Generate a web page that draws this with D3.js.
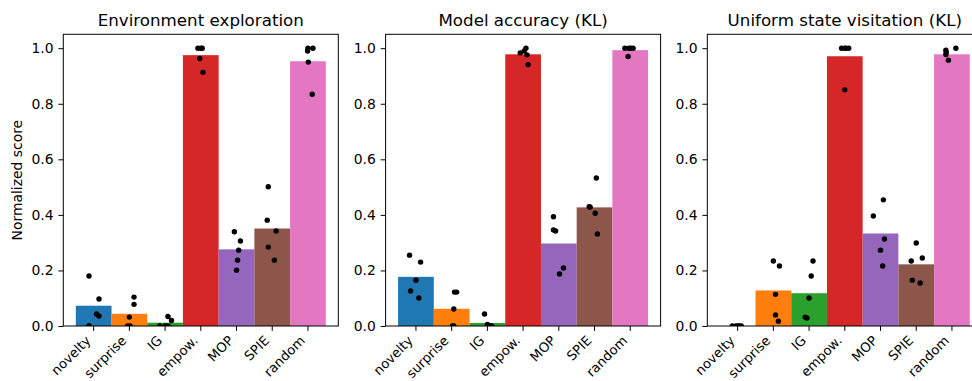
<!DOCTYPE html>
<html>
<head>
<meta charset="utf-8">
<script src="https://cdn.jsdelivr.net/npm/d3@7"></script>
<style>
  html, body { margin: 0; padding: 0; background: #fff; }
  svg { display: block; font-family: "DejaVu Sans", sans-serif; }
</style>
</head>
<body>
<svg id="chart" width="972" height="381"></svg>
<script>
// Methods compared in every panel
const categories = ["novelty", "surprise", "IG", "empow.", "MOP", "SPIE", "random"];
const barColors = ["#1f77b4", "#ff7f0e", "#2ca02c", "#d62728", "#9467bd", "#8c564b", "#e377c2"];
const panelTitles = ["Environment exploration", "Model accuracy (KL)", "Uniform state visitation (KL)"];
const yTicks = [0, 0.2, 0.4, 0.6, 0.8, 1.0];
const yLabel = "Normalized score";

// Mean normalized score per method
const explorationMeans = [0.073, 0.044, 0.012, 0.975, 0.276, 0.351, 0.953];
const accuracyMeans    = [0.177, 0.062, 0.011, 0.978, 0.297, 0.427, 0.993];
const visitationMeans  = [0.000, 0.128, 0.118, 0.971, 0.333, 0.222, 0.978];

// Individual runs (one row per method)
const explorationRuns = [
  [0.180, 0.097, 0.043, 0.036, 0.001],
  [0.104, 0.078, 0.032, 0.000, 0.000],
  [0.034, 0.020, 0.000, 0.000, 0.000],
  [1.000, 1.000, 1.000, 0.963, 0.913],
  [0.339, 0.306, 0.273, 0.237, 0.201],
  [0.501, 0.381, 0.342, 0.284, 0.237],
  [1.000, 1.000, 0.990, 0.950, 0.834]
];
const accuracyRuns = [
  [0.255, 0.230, 0.165, 0.126, 0.101],
  [0.122, 0.122, 0.061, 0.000, 0.000],
  [0.043, 0.006, 0.000, 0.000, 0.000],
  [1.000, 0.990, 0.983, 0.976, 0.941],
  [0.393, 0.346, 0.342, 0.209, 0.187],
  [0.533, 0.429, 0.428, 0.406, 0.331],
  [1.000, 1.000, 1.000, 1.000, 0.970]
];
const visitationRuns = [
  [0.000, 0.000, 0.000, 0.000, 0.000],
  [0.234, 0.216, 0.114, 0.040, 0.017],
  [0.234, 0.180, 0.101, 0.032, 0.029],
  [1.000, 1.000, 1.000, 1.000, 0.850],
  [0.454, 0.396, 0.313, 0.273, 0.216],
  [0.299, 0.245, 0.234, 0.165, 0.155],
  [1.000, 0.993, 0.985, 0.977, 0.957]
];

// Horizontal strip-plot jitter of each run, in category units
const explorationJitter = [
  [-0.13, 0.15, 0.08, 0.15, -0.13],
  [0.13, 0.13, 0.00, -0.05, 0.02],
  [0.08, 0.18, -0.15, 0.00, 0.08],
  [-0.08, 0.00, 0.04, -0.03, 0.06],
  [-0.06, 0.11, 0.06, 0.03, 0.00],
  [-0.11, -0.14, 0.11, -0.11, 0.06],
  [0.00, 0.14, -0.01, 0.01, 0.12]
];
const accuracyJitter = [
  [-0.18, 0.13, 0.00, -0.15, 0.08],
  [0.08, 0.14, 0.06, 0.06, 0.02],
  [-0.08, 0.00, 0.08, 0.03, 0.12],
  [0.08, 0.03, -0.08, 0.11, 0.14],
  [-0.15, -0.15, -0.09, 0.13, 0.02],
  [0.05, -0.15, -0.12, 0.02, 0.08],
  [-0.15, -0.04, 0.08, 0.02, -0.06]
];
const visitationJitter = [
  [-0.15, 0.00, 0.10, -0.05, 0.05],
  [0.00, 0.17, 0.06, 0.06, 0.14],
  [0.11, 0.06, 0.00, -0.11, -0.06],
  [-0.09, 0.00, 0.11, 0.03, 0.00],
  [0.08, -0.20, 0.11, 0.00, 0.06],
  [0.00, 0.17, -0.14, -0.11, 0.11],
  [0.11, -0.17, -0.16, -0.17, -0.10]
];

const panels = [
  { title: panelTitles[0], means: explorationMeans, runs: explorationRuns, jitter: explorationJitter, left: 63.3 },
  { title: panelTitles[1], means: accuracyMeans, runs: accuracyRuns, jitter: accuracyJitter, left: 385.6 },
  { title: panelTitles[2], means: visitationMeans, runs: visitationRuns, jitter: visitationJitter, left: 707.3 }
];

const svg = d3.select("#chart");
const axW = 275, axTop = 34.3, axBottom = 326;
const fontSize = 13.9, xLabelSize = 13.2, titleSize = 16.7;
const tickLen = 4.9, tickPad = 4.9;

const y = d3.scaleLinear().domain([0, 1.05]).range([axBottom, axTop]);

panels.forEach((p, pi) => {
  const x = d3.scaleLinear().domain([-0.85, 6.85]).range([p.left, p.left + axW]);
  const g = svg.append("g");

  const clipId = "clip" + pi;
  svg.append("clipPath").attr("id", clipId)
    .append("rect").attr("x", p.left).attr("y", axTop).attr("width", axW).attr("height", axBottom - axTop);

  const plot = g.append("g").attr("clip-path", `url(#${clipId})`);

  // bars
  plot.selectAll("rect.bar").data(p.means).join("rect")
    .attr("class", "bar")
    .attr("x", (d, i) => x(i - 0.5))
    .attr("width", (d, i) => x(i + 0.5) - x(i - 0.5))
    .attr("y", d => y(d))
    .attr("height", d => y(0) - y(d))
    .attr("fill", (d, i) => barColors[i]);

  // individual runs
  const pts = [];
  p.runs.forEach((row, i) => row.forEach((v, k) => pts.push({ i, v, j: p.jitter[i][k] })));
  plot.selectAll("circle").data(pts).join("circle")
    .attr("cx", d => x(d.i + d.j))
    .attr("cy", d => y(d.v))
    .attr("r", 2.7)
    .attr("fill", "#000");

  // y axis
  const yAxis = d3.axisLeft(y).tickValues(yTicks).tickFormat(d3.format(".1f"))
    .tickSize(tickLen).tickPadding(tickPad);
  const ya = g.append("g").attr("transform", `translate(${p.left},0)`).call(yAxis);
  ya.select(".domain").remove();
  ya.attr("font-family", null).attr("font-size", null);
  ya.selectAll("line").attr("stroke", "#000").attr("stroke-width", 1);
  ya.selectAll("text").attr("fill", "#000").style("font-size", fontSize + "px");

  // x axis ticks with labels rotated 45 degrees, right end at the tick
  const xa = g.append("g");
  categories.forEach((c, i) => {
    const tx = x(i);
    xa.append("line").attr("x1", tx).attr("x2", tx)
      .attr("y1", axBottom).attr("y2", axBottom + tickLen)
      .attr("stroke", "#000").attr("stroke-width", 1);
    const ax = tx - 0.707 * 0.236 * xLabelSize;
    const ay = axBottom + tickLen + tickPad + 0.707 * 0.76 * xLabelSize - 1.5;
    xa.append("text")
      .attr("transform", `translate(${ax},${ay}) rotate(-45)`)
      .attr("text-anchor", "end")
      .style("font-size", xLabelSize + "px")
      .attr("fill", "#000")
      .text(c);
  });

  // frame
  g.append("rect").attr("x", p.left).attr("y", axTop).attr("width", axW).attr("height", axBottom - axTop)
    .attr("fill", "none").attr("stroke", "#000").attr("stroke-width", 1);

  // title
  g.append("text").attr("x", p.left + axW / 2).attr("y", 26)
    .attr("text-anchor", "middle").style("font-size", titleSize + "px").attr("fill", "#000")
    .text(p.title);
});

// shared y label
svg.append("text")
  .attr("transform", `translate(22,${(axTop + axBottom) / 2}) rotate(-90)`)
  .attr("text-anchor", "middle")
  .style("font-size", fontSize + "px")
  .attr("fill", "#000")
  .text(yLabel);
</script>
</body>
</html>
